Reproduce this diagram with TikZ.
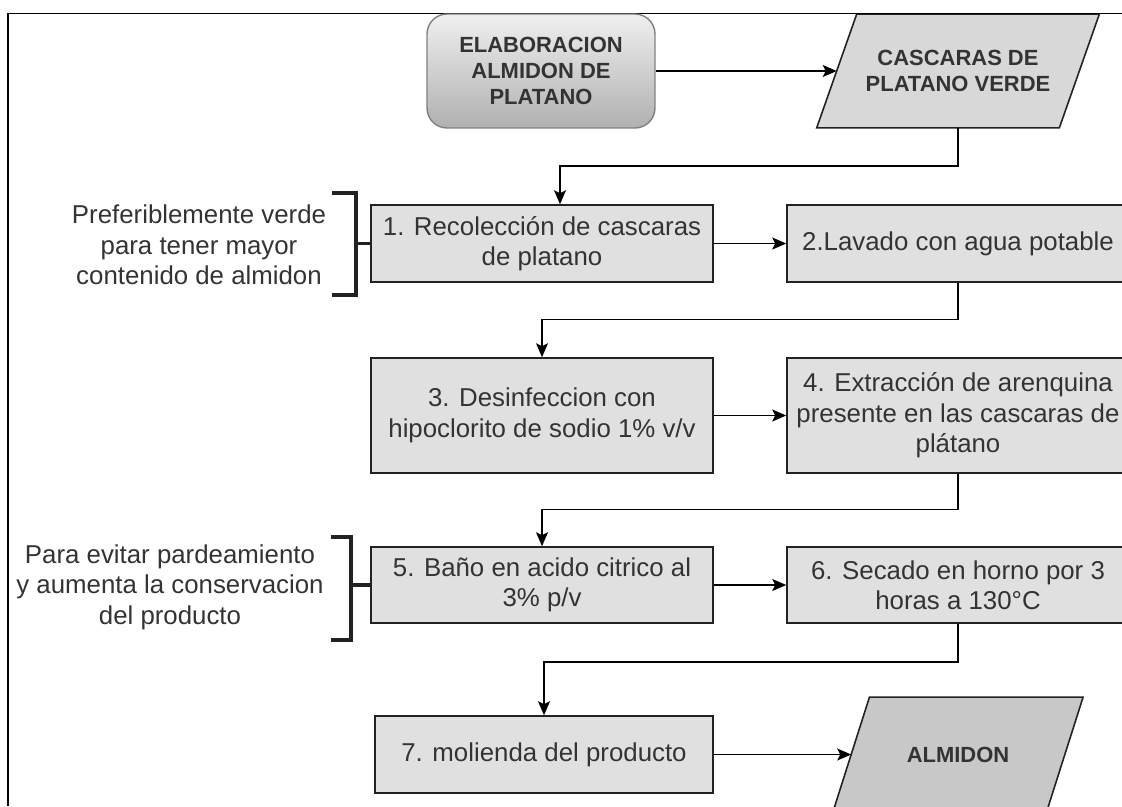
\documentclass[tikz,border=0pt]{standalone}
\usepackage{fontspec}
\setmainfont{Liberation Sans}
\usepackage{tikz}
\usetikzlibrary{positioning,arrows.meta,shapes.geometric,calc,backgrounds}
\definecolor{boxgray}{HTML}{E0E0E0}
\definecolor{ingray}{HTML}{D8D8D8}
\definecolor{outgray}{HTML}{C8C8C8}
\definecolor{txtgray}{HTML}{333333}
\definecolor{edgegray}{HTML}{222222}

\begin{document}
\begin{tikzpicture}[
  x=0.02cm, y=-0.02cm,
  font=\fontsize{14.7}{17.3}\selectfont,
  stepbox/.style={draw=edgegray, line width=0.9pt, fill=boxgray, text=txtgray, align=center, inner sep=2pt, minimum width=6.84cm},
  iobox/.style={text=txtgray, align=center, inner sep=1pt, font=\fontsize{12.5}{14.6}\selectfont\bfseries},
  ioshape/.style={draw=edgegray, line width=0.9pt},
  startbox/.style={draw=black!50, line width=0.8pt, rounded corners=0.4cm, top color=gray!12, bottom color=gray!62, text=txtgray, align=center, font=\fontsize{12.5}{15}\selectfont\bfseries, minimum width=4.56cm, minimum height=2.28cm},
  note/.style={text=txtgray, align=center},
  arr/.style={-{Stealth[length=0.28cm, width=0.24cm, inset=0.06cm]}, line width=0.8pt, black},
  brk/.style={line width=2pt, edgegray},
]
  \useasboundingbox (0,0) rectangle (1122,806);
  \draw[line width=0.9pt] (8,806) -- (8,13.5) -- (1122,13.5);

  \node[startbox] (start) at (541,71) {ELABORACION\\ALMIDON DE\\PLATANO};
  \node[iobox, minimum width=4.84cm, minimum height=2.26cm] (cascaras) at (958,71) {CASCARAS DE\\PLATANO VERDE};
  \node[stepbox, minimum height=1.54cm] (rec) at (542,243.5) {1. Recolección de cascaras\\de platano};
  \node[stepbox, minimum height=1.54cm] (lav) at (958,243.5) {2.Lavado con agua potable};
  \node[stepbox, minimum height=2.3cm] (desinf) at (542,415.5) {3. Desinfeccion con\\hipoclorito de sodio 1\% v/v};
  \node[stepbox, minimum height=2.3cm] (extr) at (958,415.5) {4. Extracción de arenquina\\presente en las cascaras de\\plátano};
  \node[stepbox, minimum height=1.52cm] (bano) at (542,585) {5. Baño en acido citrico al\\3\% p/v};
  \node[stepbox, minimum height=1.52cm] (secado) at (958,585) {6. Secado en horno por 3\\horas a 130°C};
  \node[stepbox, minimum height=1.54cm, minimum width=6.76cm] (mol) at (544,754.5) {7. molienda del producto};
  \node[iobox, minimum width=4.26cm, minimum height=2.28cm] (almidon) at (958,754.5) {ALMIDON};

  \begin{scope}[on background layer]
    \draw[ioshape, fill=ingray] ([xshift=0.4cm]cascaras.north west) -- ([xshift=0.4cm]cascaras.north east)
      -- ([xshift=-0.4cm]cascaras.south east) -- ([xshift=-0.4cm]cascaras.south west) -- cycle;
    \draw[ioshape, fill=outgray] ([xshift=0.365cm]almidon.north west) -- ([xshift=0.365cm]almidon.north east)
      -- ([xshift=-0.365cm]almidon.south east) -- ([xshift=-0.365cm]almidon.south west) -- cycle;
  \end{scope}

  \node[note] (notaverde) at (199,245) {Preferiblemente verde\\para tener mayor\\contenido de almidon};
  \node[note] (notapard) at (170,587) {Para evitar pardeamiento\\y aumenta la conservacion\\del producto};

  \draw[brk] (332,193) -- (356,193) -- (356,295) -- (332,295);
  \draw[brk] (356,243.5) -- (rec.west);
  \draw[brk] (331,537) -- (351,537) -- (351,640) -- (331,640);
  \draw[brk] (351,585) -- (bano.west);

  \draw[arr] (start) -- (cascaras);
  \draw[arr] (cascaras.south) -- ++(0,38) -| ([xshift=0.36cm]rec.north);
  \draw[arr] (rec) -- (lav);
  \draw[arr] (lav.south) -- ++(0,37) -| (desinf.north);
  \draw[arr] (desinf) -- (extr);
  \draw[arr] (extr.south) -- ++(0,36) -| (bano.north);
  \draw[arr] (bano) -- (secado);
  \draw[arr] (secado.south) -- ++(0,38) -| (mol.north);
  \draw[arr] (mol) -- (almidon);
\end{tikzpicture}
\end{document}
